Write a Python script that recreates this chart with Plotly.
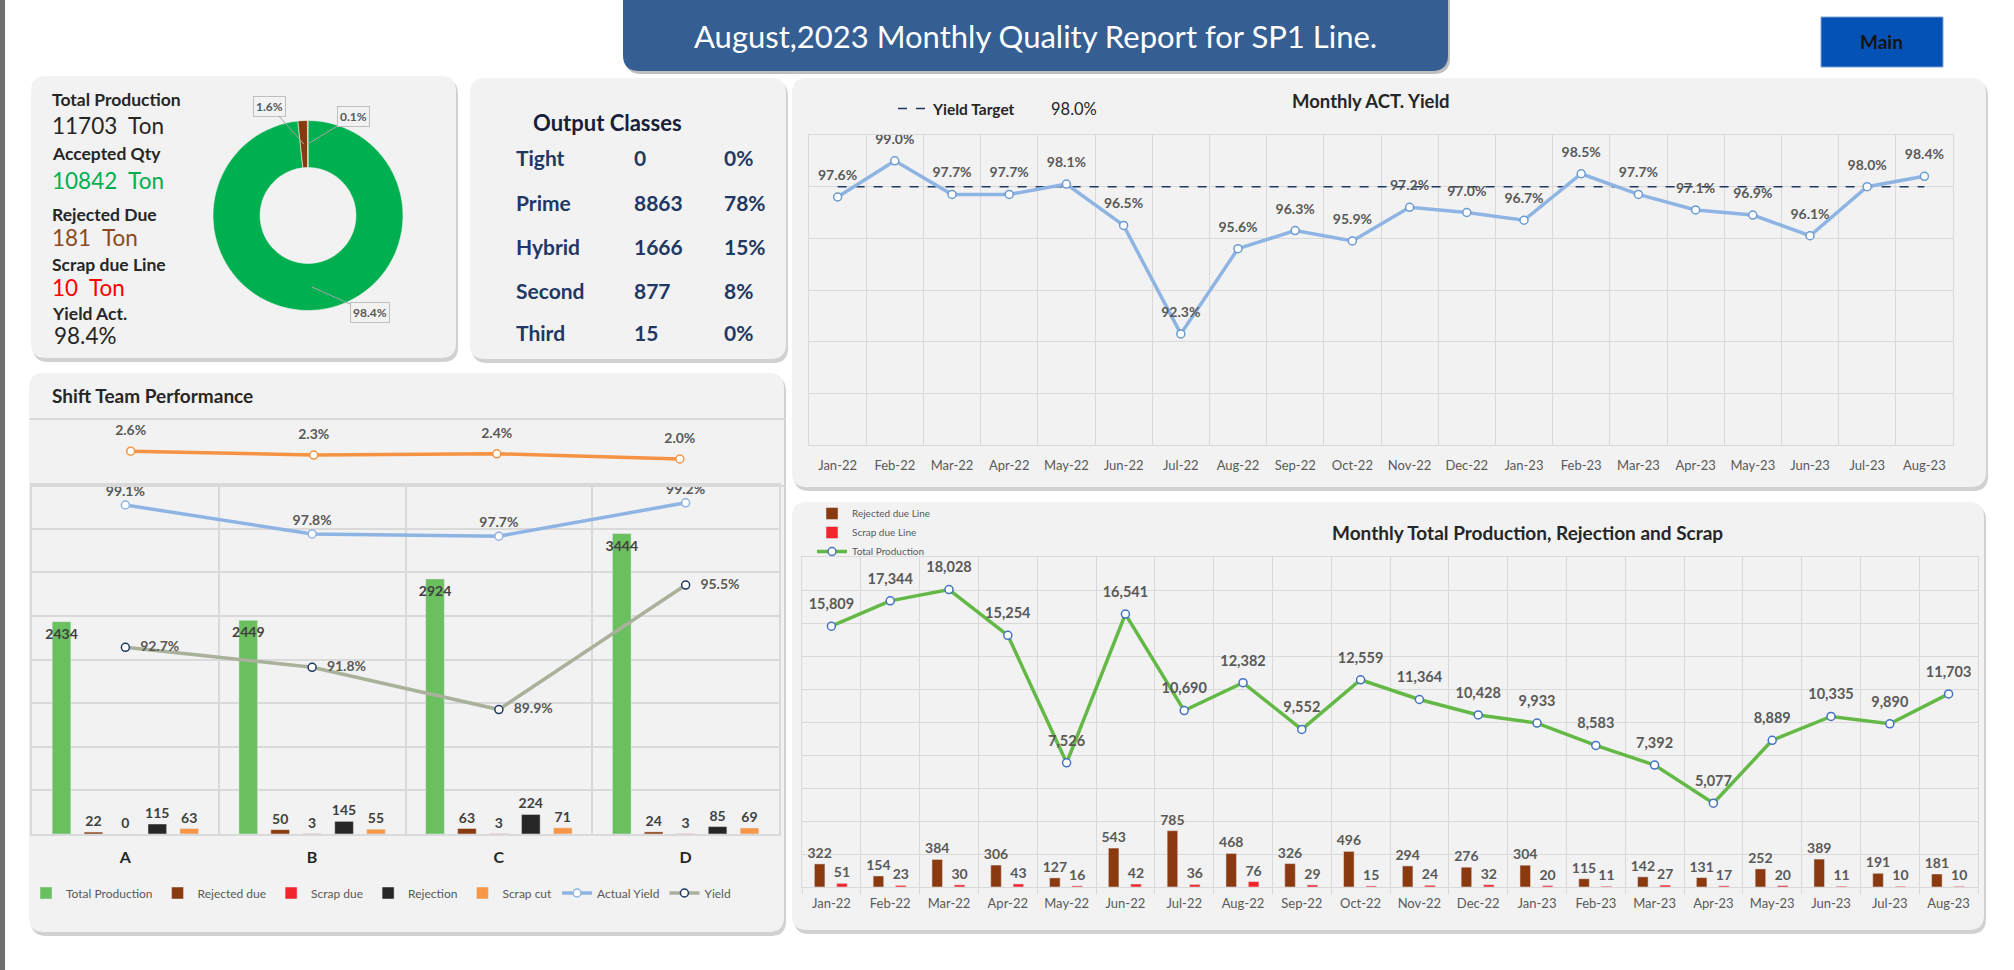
import math
import plotly.graph_objects as go

W, H = 2014, 970
FONT = "Lato, 'Open Sans', sans-serif"

# ---------------- data ----------------
months = ["Jan-22", "Feb-22", "Mar-22", "Apr-22", "May-22", "Jun-22", "Jul-22", "Aug-22",
          "Sep-22", "Oct-22", "Nov-22", "Dec-22", "Jan-23", "Feb-23", "Mar-23", "Apr-23",
          "May-23", "Jun-23", "Jul-23", "Aug-23"]
act_yield = [97.6, 99.0, 97.7, 97.7, 98.1, 96.5, 92.3, 95.6, 96.3, 95.9,
             97.2, 97.0, 96.7, 98.5, 97.7, 97.1, 96.9, 96.1, 98.0, 98.4]
yield_target = 98.0
total_production = [15809, 17344, 18028, 15254, 7526, 16541, 10690, 12382, 9552, 12559,
                    11364, 10428, 9933, 8583, 7392, 5077, 8889, 10335, 9890, 11703]
rejected_due_line = [322, 154, 384, 306, 127, 543, 785, 468, 326, 496,
                     294, 276, 304, 115, 142, 131, 252, 389, 191, 181]
scrap_due_line = [51, 23, 30, 43, 16, 42, 36, 76, 29, 15,
                  24, 32, 20, 11, 27, 17, 20, 11, 10, 10]

shifts = ["A", "B", "C", "D"]
shift_total = [2434, 2449, 2924, 3444]
shift_rejected_due = [22, 50, 63, 24]
shift_scrap_due = [0, 3, 3, 3]
shift_rejection = [115, 145, 224, 85]
shift_scrap_cut = [63, 55, 71, 69]
shift_actual_yield = [99.1, 97.8, 97.7, 99.2]
shift_yield = [92.7, 91.8, 89.9, 95.5]
shift_scrap_pct = [2.6, 2.3, 2.4, 2.0]

kpi_total = 11703
kpi_accepted = 10842
kpi_rejected = 181
kpi_scrap = 10
kpi_yield = 98.4
donut_labels = ["Accepted", "Rejected", "Scrap"]
donut_pct = [98.4, 1.6, 0.1]

classes = ["Tight", "Prime", "Hybrid", "Second", "Third"]
class_qty = [0, 8863, 1666, 877, 15]
class_pct = [0, 78, 15, 8, 0]

report_title = "August,2023 Monthly Quality Report for SP1 Line."


# ---------------- helpers ----------------
def px(x):
    return x / W


def py(y):
    return 1 - y / H


def rrect(x0, y0, x1, y1, r):
    X, Y = px, py
    return (f"M {X(x0 + r)},{Y(y0)} L {X(x1 - r)},{Y(y0)} Q {X(x1)},{Y(y0)} {X(x1)},{Y(y0 + r)} "
            f"L {X(x1)},{Y(y1 - r)} Q {X(x1)},{Y(y1)} {X(x1 - r)},{Y(y1)} "
            f"L {X(x0 + r)},{Y(y1)} Q {X(x0)},{Y(y1)} {X(x0)},{Y(y1 - r)} "
            f"L {X(x0)},{Y(y0 + r)} Q {X(x0)},{Y(y0)} {X(x0 + r)},{Y(y0)} Z")


shapes = []
annotations = []


def panel(x0, y0, x1, y1, r=15, fill="#F2F2F2"):
    shapes.append(dict(type="path", path=rrect(x0 + 2, y0 + 3, x1 + 2, y1 + 4, r), xref="paper", yref="paper",
                       fillcolor="rgba(0,0,0,0.18)", line=dict(width=0), layer="below"))
    shapes.append(dict(type="path", path=rrect(x0, y0, x1, y1, r), xref="paper", yref="paper",
                       fillcolor=fill, line=dict(width=0), layer="below"))


def text(x, y, t, size=16, color="#262626", bold=False, xanchor="left"):
    if bold:
        t = f"<b>{t}</b>"
    annotations.append(dict(x=px(x), y=py(y), xref="paper", yref="paper", text=t, showarrow=False,
                            xanchor=xanchor, yanchor="middle",
                            font=dict(family=FONT, size=size, color=color)))


# ---------------- background shapes ----------------
shapes.append(dict(type="rect", x0=0, x1=px(5), y0=0, y1=1, xref="paper", yref="paper",
                   fillcolor="#6E6E6E", line=dict(width=0), layer="below"))
panel(31, 76, 456, 358)
panel(470, 78, 786, 359)
panel(29, 373, 784, 932)
panel(792, 78, 1986, 487)
panel(792, 502, 1984, 930)
# title box
shapes.append(dict(type="path", path=rrect(625, -20, 1450, 74, 16), xref="paper", yref="paper",
                   fillcolor="rgba(0,0,0,0.25)", line=dict(width=0), layer="below"))
shapes.append(dict(type="path", path=rrect(623, -20, 1448, 71, 16), xref="paper", yref="paper",
                   fillcolor="#355E93", line=dict(width=0), layer="below"))
text(1035, 36, report_title, size=31, color="#FFFFFF", xanchor="center")
# main button
shapes.append(dict(type="rect", x0=px(1821), x1=px(1943), y0=py(67), y1=py(17), xref="paper", yref="paper",
                   fillcolor="#0452B6", line=dict(color="#7FA3D6", width=1), layer="below"))
text(1881, 42, "Main", size=19, color="#141414", bold=True, xanchor="center")

# ---------------- KPI panel ----------------
text(50, 100, "Total Production", 17.5, "#262626", True)
text(50, 126, f"{kpi_total}  Ton", 22.5, "#262626")
text(50, 153, "Accepted Qty", 17.5, "#262626", True)
text(50, 180, f"{kpi_accepted}  Ton", 22.5, "#00B050")
text(50, 214, "Rejected Due", 17.5, "#262626", True)
text(50, 237, f"{kpi_rejected}  Ton", 22.5, "#8C4A1E")
text(50, 265, "Scrap due Line", 17.5, "#262626", True)
text(50, 287, f"{kpi_scrap}  Ton", 22.5, "#FF0000")
text(50, 314, "Yield Act.", 17.5, "#262626", True)
text(52, 335, f"{kpi_yield:.1f}%", 22.5, "#262626")

# ---------------- Output classes ----------------
text(607, 122, "Output Classes", 22, "#17203A", True, "center")
row_y = [158, 202, 246, 290, 332]
for name, q, p, yy in zip(classes, class_qty, class_pct, row_y):
    text(514, yy, name, 21, "#1F3864", True)
    text(632, yy, f"{q}", 21, "#1F3864", True)
    text(722, yy, f"{p}%", 21, "#1F3864", True)

# ---------------- chart titles ----------------
text(50, 395, "Shift Team Performance", 19, "#262626", True)
text(1371, 101, "Monthly ACT. Yield", 18.5, "#262626", True, "center")
text(1527, 532, "Monthly Total Production, Rejection and Scrap", 19, "#262626", True, "center")
text(1074, 109, f"{yield_target:.1f}%", 16.5, "#262626", False, "center")

fig = go.Figure()

# ---------------- donut ----------------
fig.add_trace(go.Pie(values=donut_pct, labels=donut_labels, hole=0.505, sort=False, direction="clockwise",
                     rotation=0, marker=dict(colors=["#00B050", "#843C0C", "#FF0000"],
                                             line=dict(color="#F2F2F2", width=0.6)),
                     textinfo="none", hoverinfo="label+value", showlegend=False,
                     domain=dict(x=[px(213), px(403)], y=[py(310.5), py(120.5)])))
cx, cy, r_lab = 308, 215.5, 71.5
tot = sum(donut_pct)
cum = 0
label_offsets = [(58, 26), (-34, -38), (46, -28)]
for v, (ax, ay) in zip(donut_pct, label_offsets):
    th = math.radians((cum + v / 2) / tot * 360)
    cum += v
    xx = cx + r_lab * math.sin(th)
    yy = cy - r_lab * math.cos(th)
    annotations.append(dict(x=px(xx), y=py(yy), xref="paper", yref="paper", text=f"<b>{v:.1f}%</b>",
                            showarrow=True, arrowhead=0, arrowwidth=1, arrowcolor="#A6A6A6", ax=ax, ay=ay,
                            bordercolor="#BFBFBF", borderwidth=1, borderpad=2, bgcolor="#F2F2F2",
                            font=dict(family=FONT, size=12, color="#595959")))

GRID = "#D9D9D9"


def label_trace(x, y, texts, xaxis, yaxis, pos="top center", size=14, msize=20):
    fig.add_trace(go.Scatter(x=x, y=y, mode="markers+text", text=texts, textposition=pos,
                             textfont=dict(family=FONT, size=size, color="#595959", weight="bold"),
                             marker=dict(size=msize, color="rgba(0,0,0,0)"), hoverinfo="skip",
                             showlegend=False, xaxis=xaxis, yaxis=yaxis, cliponaxis=False))


# ---------------- Monthly ACT yield ----------------
fig.add_trace(go.Scatter(x=months, y=[yield_target] * len(months), mode="lines",
                         line=dict(color="#1F3864", dash="dash", width=1.5),
                         name="<b>Yield Target</b>", legend="legend", xaxis="x", yaxis="y"))
fig.add_trace(go.Scatter(x=months, y=act_yield, mode="lines+markers",
                         line=dict(color="#8EB4E3", width=3.5),
                         marker=dict(symbol="circle", size=8, color="white", line=dict(color="#6A9BD1", width=1.5)),
                         showlegend=False, xaxis="x", yaxis="y", cliponaxis=False))
label_trace(months, act_yield, [f"{v:.1f}%" for v in act_yield], "x", "y", size=14, msize=20)

# ---------------- Monthly production ----------------
BARF = dict(family=FONT, size=14, color="#595959", weight="bold")
fig.add_trace(go.Bar(x=months, y=rejected_due_line, width=0.18, offset=-0.29, marker_color="#8B3A0F",
                     text=[str(v) for v in rejected_due_line], textposition="outside", constraintext="none",
                     textangle=0, textfont=BARF,
                     cliponaxis=False, name="Rejected due Line", legend="legend2", xaxis="x2", yaxis="y3"))
fig.add_trace(go.Bar(x=months, y=scrap_due_line, width=0.18, offset=0.09, marker_color="#F0262B",
                     text=[str(v) for v in scrap_due_line], textposition="outside", constraintext="none",
                     textangle=0, textfont=BARF,
                     cliponaxis=False, name="Scrap due Line", legend="legend2", xaxis="x2", yaxis="y3"))
fig.add_trace(go.Scatter(x=months, y=total_production, mode="lines+markers",
                         line=dict(color="#64B946", width=3.5),
                         marker=dict(symbol="circle", size=8, color="white", line=dict(color="#4472C4", width=1.5)),
                         name="Total Production", legend="legend2", xaxis="x2", yaxis="y2", cliponaxis=False))
label_trace(months, total_production, [f"{v:,}" for v in total_production], "x2", "y2", size=14.5, msize=20)

# ---------------- Shift team performance ----------------
shift_bar_specs = [
    ("Total Production", shift_total, "#6ABF5E", -0.342),
    ("Rejected due", shift_rejected_due, "#8B3A0F", -0.171),
    ("Scrap due", shift_scrap_due, "#F0262B", 0.0),
    ("Rejection", shift_rejection, "#262626", 0.171),
    ("Scrap cut", shift_scrap_cut, "#F79646", 0.342),
]
for i, (nm, vals, col, ctr) in enumerate(shift_bar_specs):
    fig.add_trace(go.Bar(x=shifts, y=vals, width=0.1, offset=ctr - 0.05, marker_color=col,
                         text=[str(v) for v in vals],
                         textposition="inside" if i == 0 else "outside",
                         insidetextanchor="end", constraintext="none", textangle=0,
                         textfont=dict(family=FONT, size=14, color="#404040", weight="bold"),
                         cliponaxis=False, name=nm, legend="legend3", xaxis="x3", yaxis="y4"))
fig.add_trace(go.Scatter(x=shifts, y=shift_actual_yield, mode="lines+markers",
                         line=dict(color="#8EB4E3", width=3.5),
                         marker=dict(symbol="circle", size=8, color="white", line=dict(color="#8EB4E3", width=1.5)),
                         name="Actual Yield", legend="legend3", xaxis="x3", yaxis="y5", cliponaxis=False))
fig.add_trace(go.Scatter(x=shifts, y=shift_yield, mode="lines+markers",
                         line=dict(color="#A9B19A", width=3.5),
                         marker=dict(symbol="circle", size=8, color="white", line=dict(color="#1F3864", width=1.5)),
                         name="Yield", legend="legend3", xaxis="x3", yaxis="y5", cliponaxis=False))
label_trace(shifts, shift_actual_yield, [f"{v:.1f}%" for v in shift_actual_yield], "x3", "y5", size=14, msize=7)
label_trace(shifts, shift_yield, [f"{v:.1f}%" for v in shift_yield], "x3", "y5", pos="middle right",
            size=14, msize=22)
fig.add_trace(go.Scatter(x=shifts, y=shift_scrap_pct, mode="lines+markers",
                         line=dict(color="#F59342", width=3.5),
                         marker=dict(symbol="circle", size=8, color="white", line=dict(color="#F59342", width=1.5)),
                         showlegend=False, xaxis="x4", yaxis="y6", cliponaxis=False))
label_trace(shifts, shift_scrap_pct, [f"{v:.1f}%" for v in shift_scrap_pct], "x4", "y6", size=14, msize=18)

TICKF = dict(family=FONT, size=13, color="#595959")
hidden_y = dict(showticklabels=False, zeroline=False, ticks="")

fig.update_layout(
    width=W, height=H, margin=dict(l=0, r=0, t=0, b=0),
    paper_bgcolor="white", plot_bgcolor="rgba(0,0,0,0)",
    font=dict(family=FONT), barmode="overlay",
    shapes=shapes, annotations=annotations,
    # yield chart
    xaxis=dict(domain=[px(809), px(1953)], anchor="y", type="category", range=[-0.5, 19.5],
               tickson="boundaries", showgrid=True, gridcolor=GRID, showline=True, mirror=True,
               linecolor=GRID, ticks="", tickfont=TICKF, ticklabelstandoff=8),
    yaxis=dict(domain=[py(445), py(135)], anchor="x", range=[88, 100], dtick=2, tick0=88,
               showgrid=True, gridcolor=GRID, showline=True, mirror=True, linecolor=GRID, **hidden_y),
    # production chart
    xaxis2=dict(domain=[px(802), px(1978)], anchor="y2", type="category", range=[-0.5, 19.5],
                tickson="boundaries", showgrid=True, gridcolor=GRID, showline=True, mirror=True,
                linecolor=GRID, ticks="outside", ticklen=6, tickcolor=GRID, tickfont=TICKF,
                ticklabelstandoff=4),
    yaxis2=dict(domain=[py(887), py(557)], anchor="x2", range=[0, 20000], dtick=2000,
                showgrid=True, gridcolor=GRID, showline=True, mirror=True, linecolor=GRID, **hidden_y),
    yaxis3=dict(overlaying="y2", anchor="x2", range=[0, 4600], showgrid=False, **hidden_y),
    # shift chart
    xaxis3=dict(domain=[px(32), px(779)], anchor="y4", type="category", range=[-0.5, 3.5],
                tickson="boundaries", showgrid=True, gridcolor=GRID, gridwidth=1.5, showline=True,
                mirror=True, linecolor=GRID, linewidth=1.5, ticks="",
                tickfont=dict(family=FONT, size=16, color="#262626", weight="bold"), ticklabelstandoff=8),
    yaxis4=dict(domain=[py(834), py(485)], anchor="x3", range=[0, 4000], dtick=500,
                showgrid=True, gridcolor=GRID, gridwidth=1.5, showline=True, mirror=True, linecolor=GRID,
                linewidth=1.5, **hidden_y),
    yaxis5=dict(overlaying="y4", anchor="x3", range=[84.3, 100], showgrid=False, **hidden_y),
    xaxis4=dict(domain=[px(30), px(786)], anchor="y6", type="category", range=[-0.55, 3.58],
                showgrid=False, showline=True, mirror=True, linecolor=GRID, linewidth=1.5,
                showticklabels=False, ticks=""),
    yaxis6=dict(domain=[py(485), py(420)], anchor="x4", range=[0, 5], showgrid=False, **hidden_y),
    legend=dict(x=px(893), y=py(109), xanchor="left", yanchor="middle", bgcolor="rgba(0,0,0,0)",
                font=dict(family=FONT, size=15.5, color="#262626"), itemwidth=30),
    legend2=dict(x=px(812), y=py(499), xanchor="left", yanchor="top", bgcolor="rgba(0,0,0,0)",
                 font=dict(family=FONT, size=10, color="#595959"), itemwidth=30, tracegroupgap=0),
    legend3=dict(orientation="h", x=px(26), y=py(893), xanchor="left", yanchor="middle",
                 bgcolor="rgba(0,0,0,0)", font=dict(family=FONT, size=12, color="#595959"), itemwidth=30),
)

fig.write_html("out.html")
